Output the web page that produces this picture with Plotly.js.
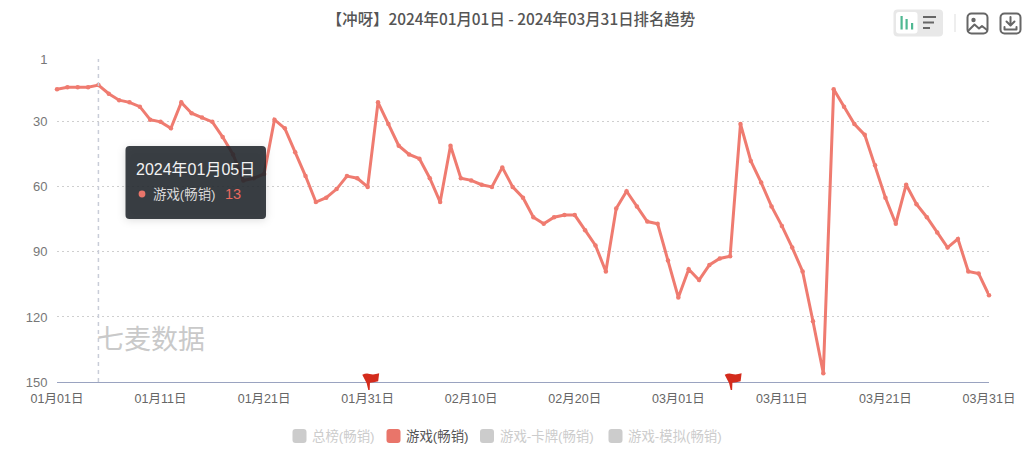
<!DOCTYPE html>
<html>
<head>
<meta charset="utf-8">
<script src="https://cdn.plot.ly/plotly-3.0.1.min.js"></script>
<style>html,body{margin:0;padding:0;background:#fff}</style>
</head>
<body>
<div id="graph" style="width:1024px;height:453px"></div>
<script>
const dates = [
    "01月01日","01月02日","01月03日","01月04日","01月05日","01月06日","01月07日","01月08日","01月09日","01月10日",
    "01月11日","01月12日","01月13日","01月14日","01月15日","01月16日","01月17日","01月18日","01月19日","01月20日",
    "01月21日","01月22日","01月23日","01月24日","01月25日","01月26日","01月27日","01月28日","01月29日","01月30日",
    "01月31日","02月01日","02月02日","02月03日","02月04日","02月05日","02月06日","02月07日","02月08日","02月09日",
    "02月10日","02月11日","02月12日","02月13日","02月14日","02月15日","02月16日","02月17日","02月18日","02月19日",
    "02月20日","02月21日","02月22日","02月23日","02月24日","02月25日","02月26日","02月27日","02月28日","02月29日",
    "03月01日","03月02日","03月03日","03月04日","03月05日","03月06日","03月07日","03月08日","03月09日","03月10日",
    "03月11日","03月12日","03月13日","03月14日","03月15日","03月16日","03月17日","03月18日","03月19日","03月20日",
    "03月21日","03月22日","03月23日","03月24日","03月25日","03月26日","03月27日","03月28日","03月29日","03月30日",
    "03月31日"
];
const ranks = [
    15,14,14,14,13,17,20,21,23,29,
    30,33,21,26,28,30,37,45,57,56,
    54,29,33,44,55,67,65,61,55,56,
    60,21,31,41,45,47,56,67,41,56,
    57,59,60,51,60,65,74,77,74,73,
    73,80,87,99,70,62,69,76,77,94,
    111,98,103,96,93,92,31,48,58,69,
    78,88,99,122,146,15,23,31,36,50,
    65,77,59,68,74,81,88,84,99,100,
    110
];
const xTicks = ["01月01日","01月11日","01月21日","01月31日","02月10日","02月20日","03月01日","03月11日","03月21日","03月31日"];
const yTicks = [1, 30, 60, 90, 120, 150];
const flagDates = ["01月31日", "03月06日"];
const legendNames = ["总榜(畅销)", "游戏(畅销)", "游戏-卡牌(畅销)", "游戏-模拟(畅销)"];
const legendActive = [false, true, false, false];
const hoverDate = "2024年01月05日";
const hoverSeries = "游戏(畅销)";

const FONT = '"Liberation Sans", "Noto Sans CJK SC", sans-serif';
const L = 57, R = 989, T = 59, B = 382;

// page pixels to paper coordinates, for the things outside the data
const px = (x) => (x - L) / (R - L);
const py = (y) => (B - y) / (B - T);

function svgImage(vx, vy, vw, vh, body) {
    const svg = `<svg xmlns="http://www.w3.org/2000/svg" width="${vw}" height="${vh}" viewBox="${vx} ${vy} ${vw} ${vh}">${body}</svg>`;
    return {
        source: "data:image/svg+xml;charset=utf-8," + encodeURIComponent(svg),
        xref: "paper", yref: "paper",
        x: px(vx), y: py(vy),
        sizex: vw / (R - L), sizey: vh / (B - T),
        xanchor: "left", yanchor: "top",
        sizing: "stretch", layer: "above"
    };
}

function label(text, x, y, size, color, extra) {
    return Object.assign({
        text: text, xref: "paper", yref: "paper", x: px(x), y: py(y),
        xanchor: "left", yanchor: "middle", showarrow: false,
        font: {family: FONT, size: size, color: color}
    }, extra || {});
}

function swatchPath(x, y, s, r) {
    const p = (a, b) => px(a) + " " + py(b);
    return "M " + p(x + r, y) + " L " + p(x + s - r, y) + " Q " + p(x + s, y) + " " + p(x + s, y + r) +
        " L " + p(x + s, y + s - r) + " Q " + p(x + s, y + s) + " " + p(x + s - r, y + s) +
        " L " + p(x + r, y + s) + " Q " + p(x, y + s) + " " + p(x, y + s - r) +
        " L " + p(x, y + r) + " Q " + p(x, y) + " " + p(x + r, y) + " Z";
}

const toolbar = svgImage(890, 5, 134, 35, `
    <rect x="893.5" y="9.5" width="49.5" height="27" rx="4" fill="#e8e8e8"/>
    <rect x="896" y="12" width="21.5" height="21.5" rx="3" fill="#fff"/>
    <g fill="#4fb892"><rect x="900.5" y="16" width="2.2" height="13.5"/><rect x="905.5" y="19" width="2.2" height="10.5"/><rect x="911" y="23" width="2.2" height="6.5"/></g>
    <g fill="#666"><rect x="923" y="16" width="13" height="2"/><rect x="923" y="21.5" width="11" height="2"/><rect x="923" y="27" width="7" height="2"/></g>
    <rect x="954.5" y="14" width="1" height="18" fill="#ddd"/>
    <g fill="none" stroke="#666" stroke-width="2" stroke-linejoin="round" stroke-linecap="round">
        <rect x="967.5" y="13.5" width="20" height="20" rx="4"/>
        <path d="M968 31 L974.5 24.5 L979 28.5 L982 26 L987 30"/>
        <rect x="1000.5" y="13.5" width="20" height="20" rx="4"/>
        <path d="M1010.5 17 V25 M1006.5 21.5 L1010.5 25.5 L1014.5 21.5 M1004.5 27 V29.5 H1016.5 V27"/>
    </g>
    <circle cx="973.5" cy="20" r="2.2" fill="#666"/>`);

const tooltipPanel = svgImage(105, 130, 185, 110, `
    <defs><filter id="s" x="-20%" y="-30%" width="140%" height="160%"><feGaussianBlur stdDeviation="4"/></filter></defs>
    <rect x="125.5" y="148" width="140.5" height="72" rx="4" fill="#000" fill-opacity="0.14" filter="url(#s)"/>
    <rect x="125.5" y="146" width="140.5" height="73" rx="4" fill="#21272c" fill-opacity="0.88"/>
    <circle cx="142" cy="194" r="3.4" fill="#e9756a"/>`);

const annotations = [
    label("七麦数据", 95, 340, 27, "#c9c9c9"),
    label(hoverDate, 134, 169, 16, "#f2f2f2"),
    label(hoverSeries, 151, 194, 13.4, "#d8d8d8"),
    label(String(ranks[dates.indexOf("01月05日")]), 223, 194, 14.5, "#e9695f")
];

const legendX = [292.5, 386.5, 480, 608.5];
const shapes = [{
    type: "line", xref: "x", yref: "paper",
    x0: "01月05日", x1: "01月05日", y0: 0, y1: 1,
    line: {color: "#c9cdd8", width: 1.5, dash: "4px,4px"},
    layer: "above"
}];

legendNames.forEach((name, i) => {
    const on = legendActive[i];
    shapes.push({
        type: "path", xref: "paper", yref: "paper",
        path: swatchPath(legendX[i], 429, 14, 3),
        fillcolor: on ? "#e9756a" : "#cccccc",
        line: {width: 0}
    });
    annotations.push(label(name, legendX[i] + 17.5, 436, 13.4, on ? "#555555" : "#cccccc"));
});

// flags stand on the axis, drawn in pixels around their date
flagDates.forEach((d) => {
    shapes.push({
        type: "path", xref: "x", yref: "paper",
        xsizemode: "pixel", ysizemode: "pixel",
        xanchor: d, yanchor: 0,
        path: "M -5.4 7.3 Q -1 9.5 2 8 Q 6 6.8 11.5 8.7 L 10.5 0.8 Q 6 -0.3 2.3 -0.7 L 2 -8 L 0.6 -8 L -1 -1.3 Z",
        fillcolor: "#d42b1c",
        line: {width: 0},
        layer: "above"
    });
});

const trace = {
    name: "游戏(畅销)",
    x: dates,
    y: ranks,
    type: "scatter",
    mode: "lines+markers",
    cliponaxis: false,
    line: {color: "#ef7b70", width: 3},
    marker: {color: "#ef7b70", size: 4.5},
    hoverinfo: "skip",
    showlegend: false
};

const layout = {
    width: 1024,
    height: 453,
    margin: {l: L, r: 1024 - R, t: T, b: 453 - B},
    paper_bgcolor: "#fff",
    plot_bgcolor: "#fff",
    showlegend: false,
    title: {
        text: "【冲呀】2024年01月01日 - 2024年03月31日排名趋势",
        font: {family: '"Noto Sans CJK SC", sans-serif', size: 15.4, color: "#555", weight: 500},
        x: 511 / 1024, xref: "container", xanchor: "center",
        y: 1 - 20 / 453, yref: "container", yanchor: "middle"
    },
    xaxis: {
        type: "category",
        range: [0, 90],
        tickmode: "array",
        tickvals: xTicks,
        ticktext: xTicks,
        tickangle: 0,
        showgrid: false,
        zeroline: false,
        showline: true,
        linecolor: "#9aa3c0",
        linewidth: 1,
        ticks: "outside",
        ticklen: 5,
        tickcolor: "rgba(0,0,0,0)",
        tickfont: {family: FONT, size: 12.5, color: "#666"}
    },
    yaxis: {
        range: [150, 1],
        tickmode: "array",
        tickvals: yTicks,
        showgrid: true,
        gridcolor: "#cfcfcf",
        griddash: "2px,3px",
        gridwidth: 1,
        zeroline: false,
        showline: false,
        ticks: "outside",
        ticklen: 6,
        tickcolor: "rgba(0,0,0,0)",
        tickfont: {family: FONT, size: 13, color: "#777"}
    },
    shapes: shapes,
    annotations: annotations,
    images: [toolbar, tooltipPanel]
};

Plotly.newPlot("graph", [trace], layout, {displayModeBar: false, staticPlot: true});
</script>
</body>
</html>
